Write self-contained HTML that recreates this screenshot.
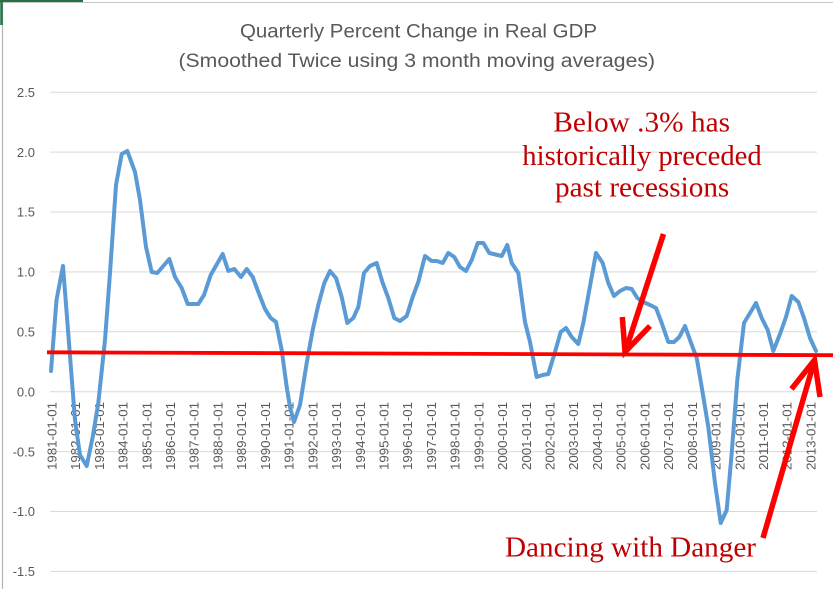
<!DOCTYPE html>
<html><head><meta charset="utf-8"><style>
html,body{margin:0;padding:0;background:#fff;}
svg{display:block;}
</style></head><body>
<svg width="833" height="589" viewBox="0 0 833 589" xmlns="http://www.w3.org/2000/svg">
<rect width="833" height="589" fill="#fff"/>
<!-- sheet / chart borders -->
<line x1="0" y1="2.5" x2="833" y2="2.5" stroke="#c8c8c8" stroke-width="1"/>
<line x1="2.5" y1="0" x2="2.5" y2="589" stroke="#b4b4b4" stroke-width="1.2"/>
<line x1="0" y1="1" x2="83" y2="1" stroke="#217346" stroke-width="2"/>
<line x1="1.5" y1="0" x2="1.5" y2="25" stroke="#217346" stroke-width="2.5"/>
<!-- title -->
<g font-family="Liberation Sans, sans-serif" fill="#595959" font-size="19">
<text x="240" y="37.5" textLength="357" lengthAdjust="spacingAndGlyphs">Quarterly Percent Change in Real GDP</text>
<text x="178.5" y="67" textLength="476.5" lengthAdjust="spacingAndGlyphs">(Smoothed Twice using 3 month moving averages)</text>
</g>
<!-- gridlines -->
<g stroke="#d9d9d9" stroke-width="1">
<line x1="50" y1="92.2" x2="817" y2="92.2"/>
<line x1="50" y1="152.1" x2="817" y2="152.1"/>
<line x1="50" y1="212" x2="817" y2="212"/>
<line x1="50" y1="271.9" x2="817" y2="271.9"/>
<line x1="50" y1="331.8" x2="817" y2="331.8"/>
<line x1="50" y1="391.7" x2="817" y2="391.7"/>
<line x1="50" y1="451.6" x2="817" y2="451.6"/>
<line x1="50" y1="511.5" x2="817" y2="511.5"/>
<line x1="50" y1="571.4" x2="817" y2="571.4"/>
</g>
<!-- y labels -->
<g font-family="Liberation Sans, sans-serif" fill="#595959" font-size="13" text-anchor="end">
<text x="35" y="96.9">2.5</text>
<text x="35" y="156.8">2.0</text>
<text x="35" y="216.7">1.5</text>
<text x="35" y="276.6">1.0</text>
<text x="35" y="336.5">0.5</text>
<text x="35" y="396.4">0.0</text>
<text x="35" y="456.3">-0.5</text>
<text x="35" y="516.2">-1.0</text>
<text x="35" y="576.1">-1.5</text>
</g>
<!-- x labels -->
<g font-family="Liberation Sans, sans-serif" fill="#595959" font-size="13" text-anchor="end">
<text transform="translate(56.4,402) rotate(-90)" textLength="68" lengthAdjust="spacingAndGlyphs">1981-01-01</text>
<text transform="translate(80.1,402) rotate(-90)" textLength="68" lengthAdjust="spacingAndGlyphs">1982-01-01</text>
<text transform="translate(103.8,402) rotate(-90)" textLength="68" lengthAdjust="spacingAndGlyphs">1983-01-01</text>
<text transform="translate(127.6,402) rotate(-90)" textLength="68" lengthAdjust="spacingAndGlyphs">1984-01-01</text>
<text transform="translate(151.3,402) rotate(-90)" textLength="68" lengthAdjust="spacingAndGlyphs">1985-01-01</text>
<text transform="translate(175.0,402) rotate(-90)" textLength="68" lengthAdjust="spacingAndGlyphs">1986-01-01</text>
<text transform="translate(198.7,402) rotate(-90)" textLength="68" lengthAdjust="spacingAndGlyphs">1987-01-01</text>
<text transform="translate(222.4,402) rotate(-90)" textLength="68" lengthAdjust="spacingAndGlyphs">1988-01-01</text>
<text transform="translate(246.2,402) rotate(-90)" textLength="68" lengthAdjust="spacingAndGlyphs">1989-01-01</text>
<text transform="translate(269.9,402) rotate(-90)" textLength="68" lengthAdjust="spacingAndGlyphs">1990-01-01</text>
<text transform="translate(293.6,402) rotate(-90)" textLength="68" lengthAdjust="spacingAndGlyphs">1991-01-01</text>
<text transform="translate(317.3,402) rotate(-90)" textLength="68" lengthAdjust="spacingAndGlyphs">1992-01-01</text>
<text transform="translate(341.0,402) rotate(-90)" textLength="68" lengthAdjust="spacingAndGlyphs">1993-01-01</text>
<text transform="translate(364.8,402) rotate(-90)" textLength="68" lengthAdjust="spacingAndGlyphs">1994-01-01</text>
<text transform="translate(388.5,402) rotate(-90)" textLength="68" lengthAdjust="spacingAndGlyphs">1995-01-01</text>
<text transform="translate(412.2,402) rotate(-90)" textLength="68" lengthAdjust="spacingAndGlyphs">1996-01-01</text>
<text transform="translate(435.9,402) rotate(-90)" textLength="68" lengthAdjust="spacingAndGlyphs">1997-01-01</text>
<text transform="translate(459.6,402) rotate(-90)" textLength="68" lengthAdjust="spacingAndGlyphs">1998-01-01</text>
<text transform="translate(483.4,402) rotate(-90)" textLength="68" lengthAdjust="spacingAndGlyphs">1999-01-01</text>
<text transform="translate(507.1,402) rotate(-90)" textLength="68" lengthAdjust="spacingAndGlyphs">2000-01-01</text>
<text transform="translate(530.8,402) rotate(-90)" textLength="68" lengthAdjust="spacingAndGlyphs">2001-01-01</text>
<text transform="translate(554.5,402) rotate(-90)" textLength="68" lengthAdjust="spacingAndGlyphs">2002-01-01</text>
<text transform="translate(578.2,402) rotate(-90)" textLength="68" lengthAdjust="spacingAndGlyphs">2003-01-01</text>
<text transform="translate(602.0,402) rotate(-90)" textLength="68" lengthAdjust="spacingAndGlyphs">2004-01-01</text>
<text transform="translate(625.7,402) rotate(-90)" textLength="68" lengthAdjust="spacingAndGlyphs">2005-01-01</text>
<text transform="translate(649.4,402) rotate(-90)" textLength="68" lengthAdjust="spacingAndGlyphs">2006-01-01</text>
<text transform="translate(673.1,402) rotate(-90)" textLength="68" lengthAdjust="spacingAndGlyphs">2007-01-01</text>
<text transform="translate(696.8,402) rotate(-90)" textLength="68" lengthAdjust="spacingAndGlyphs">2008-01-01</text>
<text transform="translate(720.6,402) rotate(-90)" textLength="68" lengthAdjust="spacingAndGlyphs">2009-01-01</text>
<text transform="translate(744.3,402) rotate(-90)" textLength="68" lengthAdjust="spacingAndGlyphs">2010-01-01</text>
<text transform="translate(768.0,402) rotate(-90)" textLength="68" lengthAdjust="spacingAndGlyphs">2011-01-01</text>
<text transform="translate(791.7,402) rotate(-90)" textLength="68" lengthAdjust="spacingAndGlyphs">2012-01-01</text>
<text transform="translate(815.4,402) rotate(-90)" textLength="68" lengthAdjust="spacingAndGlyphs">2013-01-01</text>
</g>
<!-- data series -->
<polyline fill="none" stroke="#5b9bd5" stroke-width="4" stroke-linejoin="round" stroke-linecap="round" points="
51,371 56.5,300 63,266 75,420 80,455 86.7,466 92.7,437 98.3,403 105,340 110,273 116,185 121.7,154 127.3,151 135,172 140,200 146,247 151.7,272 157.3,273 169.3,259 175,277 181.7,288 187.7,304 198.3,304 204,295 210.7,275 222.7,254 228.3,271 234.3,269 241,277 246.7,269 252.7,277 258.3,292 265,309 270.7,318 276,322 281.7,350 286.7,387 290,407 294,422 300,405 306.7,363 312.7,330 318.3,305 324.3,283 330,271 336,278 341.7,297 347.3,323 353.3,318 358.3,307 364,273 370,266 376.7,263 382.7,283 388.3,298 394.3,318 400,321 406.7,316 412.7,297 418.3,282 425,256 431.7,261 436.7,261 442.7,263 448.3,253 454.3,257 460,267 466,271 471.7,260 477.7,243 483.3,243 489.3,253 501.7,256 507.3,245 511.7,263 518.3,273 525,322 530,342 536.7,377 542.7,375 548.3,374 555,352 560.7,332 566,328 571.7,337 578.3,344 583.3,323 589.3,290 596,253 602.7,263 608.3,283 614,296 620,291 626,288 631.7,289 637.3,298 643.3,302 650,305 656,308 661.7,323 668.3,342 674,342 679.3,337 685,326 690.7,342 696.7,358 701.7,387 708.3,427 715,483 720.7,523 726.7,510 731.7,453 737.3,380 744,323 750,313 756,303 761.7,318 767.7,330 773.3,351 780,334 786,317 791.7,296 798.3,302 804,318 810,338 816,351"/>
<!-- red threshold line -->
<line x1="47" y1="352.3" x2="833" y2="355.2" stroke="#ff0000" stroke-width="3.8"/>
<!-- arrows -->
<g stroke="#ff0000" stroke-width="5.5" fill="none" stroke-linecap="butt" stroke-linejoin="miter">
<line x1="663.5" y1="234" x2="625.5" y2="351"/>
<polyline points="622.3,317 625,352 650,326"/>
<line x1="763" y1="538" x2="814" y2="362"/>
<polyline points="791.5,389 814.5,360 820,397"/>
</g>
<!-- annotations -->
<g font-family="Liberation Serif, serif" fill="#c00000" font-size="28.5">
<text x="553.3" y="131.5" textLength="176.7" lengthAdjust="spacingAndGlyphs">Below .3% has</text>
<text x="522.3" y="165" textLength="239.4" lengthAdjust="spacingAndGlyphs">historically preceded</text>
<text x="555" y="196.5" textLength="174.3" lengthAdjust="spacingAndGlyphs">past recessions</text>
<text x="505" y="556.5" textLength="251" lengthAdjust="spacingAndGlyphs" font-size="29">Dancing with Danger</text>
</g>
</svg>
</body></html>
